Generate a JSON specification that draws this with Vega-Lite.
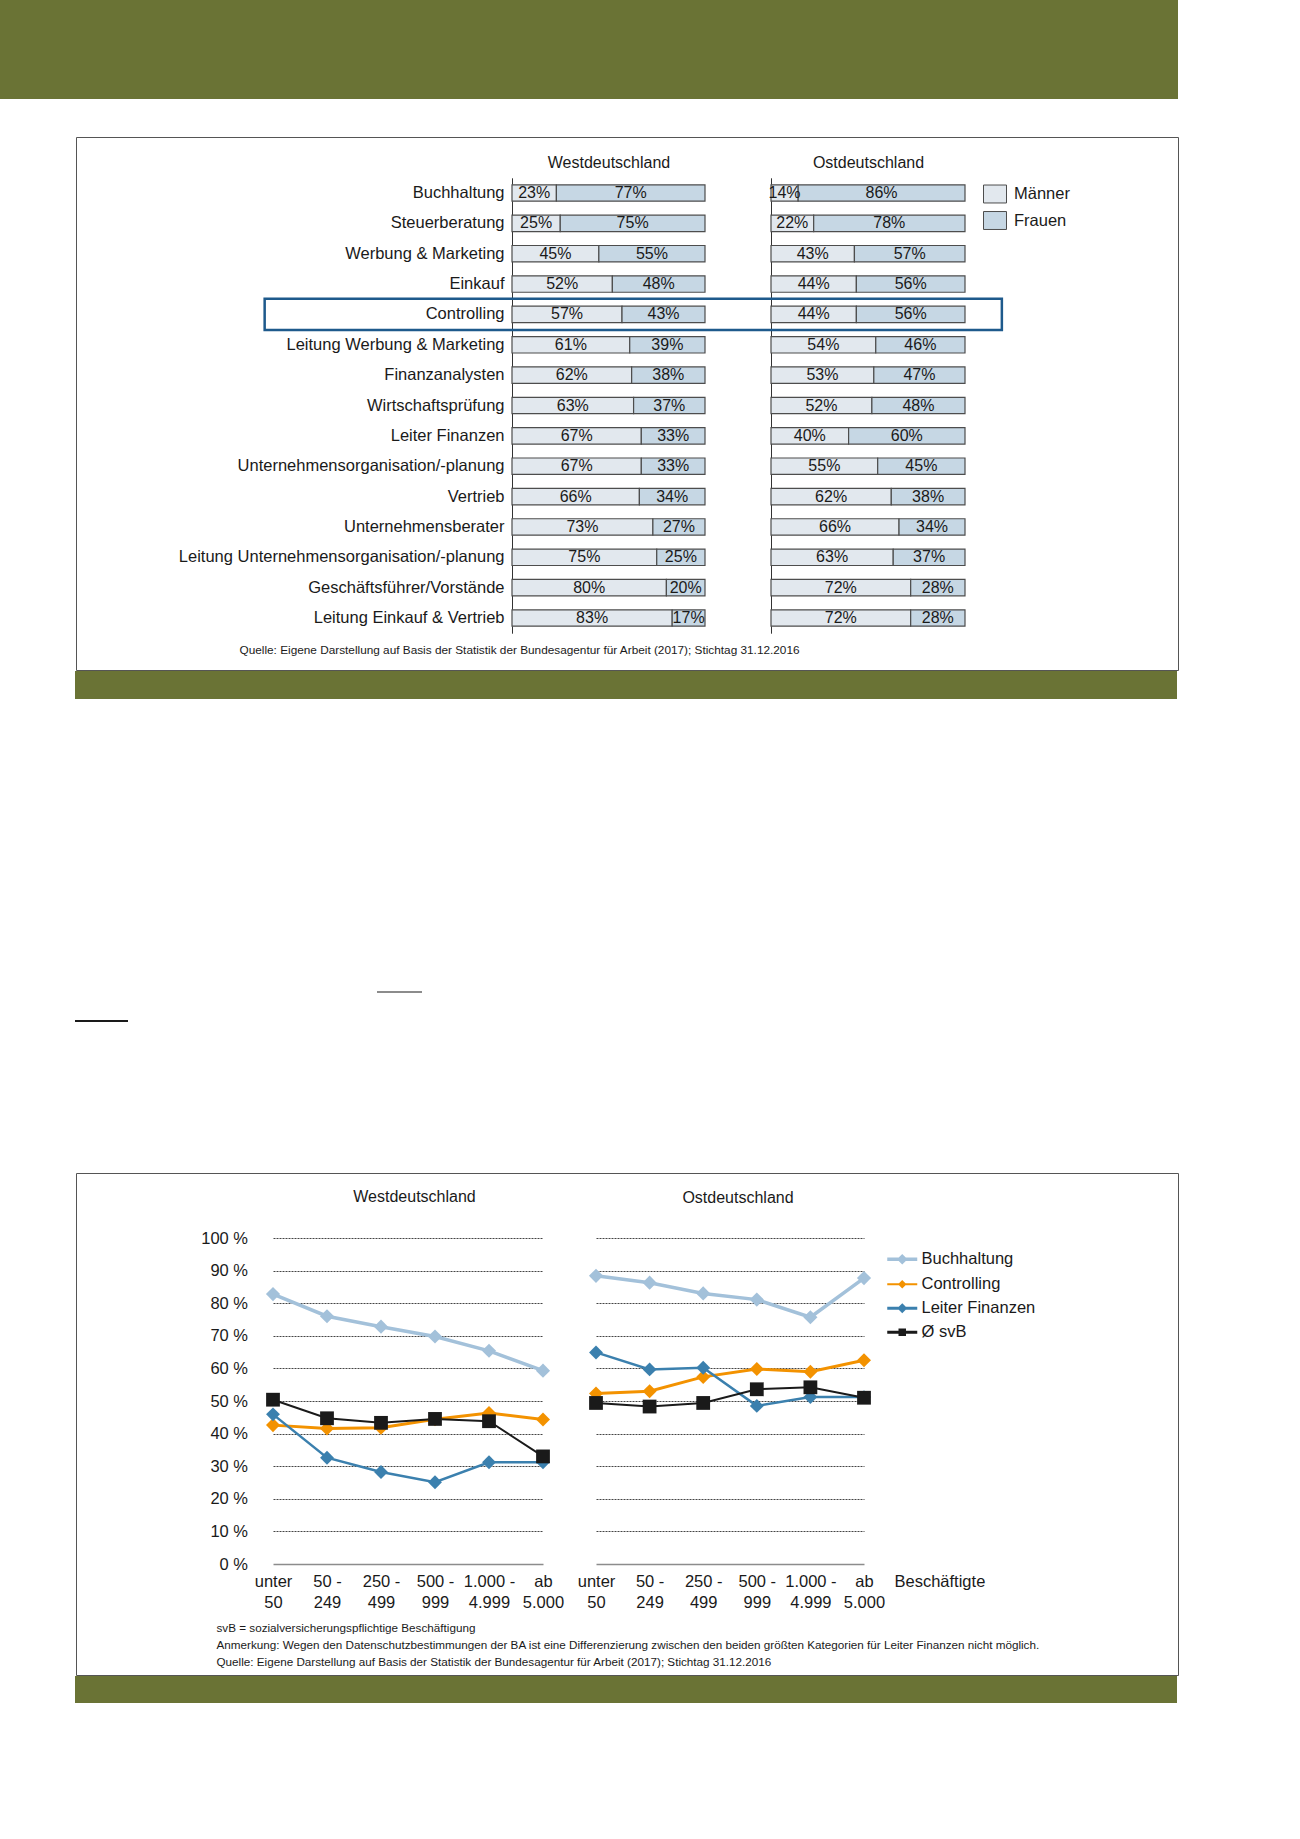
{
  "$schema": "https://vega.github.io/schema/vega-lite/v6.json",
  "padding": 0,
  "background": "white",
  "spacing": 0,
  "config": {"view": {"stroke": null}, "font": "Liberation Sans", "concat": {"spacing": 0}},
  "resolve": {"scale": {"color": "independent", "size": "independent", "shape": "independent", "strokeWidth": "independent"}, "legend": {"color": "independent"}},
  "datasets": {
    "bars": [
      {"region": "West", "job": "Buchhaltung", "gender": "Männer", "value": 23},
      {"region": "West", "job": "Buchhaltung", "gender": "Frauen", "value": 77},
      {"region": "West", "job": "Steuerberatung", "gender": "Männer", "value": 25},
      {"region": "West", "job": "Steuerberatung", "gender": "Frauen", "value": 75},
      {"region": "West", "job": "Werbung & Marketing", "gender": "Männer", "value": 45},
      {"region": "West", "job": "Werbung & Marketing", "gender": "Frauen", "value": 55},
      {"region": "West", "job": "Einkauf", "gender": "Männer", "value": 52},
      {"region": "West", "job": "Einkauf", "gender": "Frauen", "value": 48},
      {"region": "West", "job": "Controlling", "gender": "Männer", "value": 57},
      {"region": "West", "job": "Controlling", "gender": "Frauen", "value": 43},
      {"region": "West", "job": "Leitung Werbung & Marketing", "gender": "Männer", "value": 61},
      {"region": "West", "job": "Leitung Werbung & Marketing", "gender": "Frauen", "value": 39},
      {"region": "West", "job": "Finanzanalysten", "gender": "Männer", "value": 62},
      {"region": "West", "job": "Finanzanalysten", "gender": "Frauen", "value": 38},
      {"region": "West", "job": "Wirtschaftsprüfung", "gender": "Männer", "value": 63},
      {"region": "West", "job": "Wirtschaftsprüfung", "gender": "Frauen", "value": 37},
      {"region": "West", "job": "Leiter Finanzen", "gender": "Männer", "value": 67},
      {"region": "West", "job": "Leiter Finanzen", "gender": "Frauen", "value": 33},
      {"region": "West", "job": "Unternehmensorganisation/-planung", "gender": "Männer", "value": 67},
      {"region": "West", "job": "Unternehmensorganisation/-planung", "gender": "Frauen", "value": 33},
      {"region": "West", "job": "Vertrieb", "gender": "Männer", "value": 66},
      {"region": "West", "job": "Vertrieb", "gender": "Frauen", "value": 34},
      {"region": "West", "job": "Unternehmensberater", "gender": "Männer", "value": 73},
      {"region": "West", "job": "Unternehmensberater", "gender": "Frauen", "value": 27},
      {"region": "West", "job": "Leitung Unternehmensorganisation/-planung", "gender": "Männer", "value": 75},
      {"region": "West", "job": "Leitung Unternehmensorganisation/-planung", "gender": "Frauen", "value": 25},
      {"region": "West", "job": "Geschäftsführer/Vorstände", "gender": "Männer", "value": 80},
      {"region": "West", "job": "Geschäftsführer/Vorstände", "gender": "Frauen", "value": 20},
      {"region": "West", "job": "Leitung Einkauf & Vertrieb", "gender": "Männer", "value": 83},
      {"region": "West", "job": "Leitung Einkauf & Vertrieb", "gender": "Frauen", "value": 17},
      {"region": "East", "job": "Buchhaltung", "gender": "Männer", "value": 14},
      {"region": "East", "job": "Buchhaltung", "gender": "Frauen", "value": 86},
      {"region": "East", "job": "Steuerberatung", "gender": "Männer", "value": 22},
      {"region": "East", "job": "Steuerberatung", "gender": "Frauen", "value": 78},
      {"region": "East", "job": "Werbung & Marketing", "gender": "Männer", "value": 43},
      {"region": "East", "job": "Werbung & Marketing", "gender": "Frauen", "value": 57},
      {"region": "East", "job": "Einkauf", "gender": "Männer", "value": 44},
      {"region": "East", "job": "Einkauf", "gender": "Frauen", "value": 56},
      {"region": "East", "job": "Controlling", "gender": "Männer", "value": 44},
      {"region": "East", "job": "Controlling", "gender": "Frauen", "value": 56},
      {"region": "East", "job": "Leitung Werbung & Marketing", "gender": "Männer", "value": 54},
      {"region": "East", "job": "Leitung Werbung & Marketing", "gender": "Frauen", "value": 46},
      {"region": "East", "job": "Finanzanalysten", "gender": "Männer", "value": 53},
      {"region": "East", "job": "Finanzanalysten", "gender": "Frauen", "value": 47},
      {"region": "East", "job": "Wirtschaftsprüfung", "gender": "Männer", "value": 52},
      {"region": "East", "job": "Wirtschaftsprüfung", "gender": "Frauen", "value": 48},
      {"region": "East", "job": "Leiter Finanzen", "gender": "Männer", "value": 40},
      {"region": "East", "job": "Leiter Finanzen", "gender": "Frauen", "value": 60},
      {"region": "East", "job": "Unternehmensorganisation/-planung", "gender": "Männer", "value": 55},
      {"region": "East", "job": "Unternehmensorganisation/-planung", "gender": "Frauen", "value": 45},
      {"region": "East", "job": "Vertrieb", "gender": "Männer", "value": 62},
      {"region": "East", "job": "Vertrieb", "gender": "Frauen", "value": 38},
      {"region": "East", "job": "Unternehmensberater", "gender": "Männer", "value": 66},
      {"region": "East", "job": "Unternehmensberater", "gender": "Frauen", "value": 34},
      {"region": "East", "job": "Leitung Unternehmensorganisation/-planung", "gender": "Männer", "value": 63},
      {"region": "East", "job": "Leitung Unternehmensorganisation/-planung", "gender": "Frauen", "value": 37},
      {"region": "East", "job": "Geschäftsführer/Vorstände", "gender": "Männer", "value": 72},
      {"region": "East", "job": "Geschäftsführer/Vorstände", "gender": "Frauen", "value": 28},
      {"region": "East", "job": "Leitung Einkauf & Vertrieb", "gender": "Männer", "value": 72},
      {"region": "East", "job": "Leitung Einkauf & Vertrieb", "gender": "Frauen", "value": 28}
    ],
    "lines": [
      {"region": "West", "series": "Buchhaltung", "size": "unter 50", "value": 82.8},
      {"region": "West", "series": "Buchhaltung", "size": "50 - 249", "value": 76.0},
      {"region": "West", "series": "Buchhaltung", "size": "250 - 499", "value": 72.8},
      {"region": "West", "series": "Buchhaltung", "size": "500 - 999", "value": 69.8},
      {"region": "West", "series": "Buchhaltung", "size": "1.000 - 4.999", "value": 65.4},
      {"region": "West", "series": "Buchhaltung", "size": "ab 5.000", "value": 59.3},
      {"region": "West", "series": "Controlling", "size": "unter 50", "value": 42.6},
      {"region": "West", "series": "Controlling", "size": "50 - 249", "value": 41.6},
      {"region": "West", "series": "Controlling", "size": "250 - 499", "value": 41.8},
      {"region": "West", "series": "Controlling", "size": "500 - 999", "value": 44.4},
      {"region": "West", "series": "Controlling", "size": "1.000 - 4.999", "value": 46.3},
      {"region": "West", "series": "Controlling", "size": "ab 5.000", "value": 44.3},
      {"region": "West", "series": "Leiter Finanzen", "size": "unter 50", "value": 45.9},
      {"region": "West", "series": "Leiter Finanzen", "size": "50 - 249", "value": 32.6},
      {"region": "West", "series": "Leiter Finanzen", "size": "250 - 499", "value": 28.2},
      {"region": "West", "series": "Leiter Finanzen", "size": "500 - 999", "value": 25.1},
      {"region": "West", "series": "Leiter Finanzen", "size": "1.000 - 4.999", "value": 31.2},
      {"region": "West", "series": "Leiter Finanzen", "size": "ab 5.000", "value": 31.2},
      {"region": "West", "series": "Ø svB", "size": "unter 50", "value": 50.4},
      {"region": "West", "series": "Ø svB", "size": "50 - 249", "value": 44.7},
      {"region": "West", "series": "Ø svB", "size": "250 - 499", "value": 43.3},
      {"region": "West", "series": "Ø svB", "size": "500 - 999", "value": 44.5},
      {"region": "West", "series": "Ø svB", "size": "1.000 - 4.999", "value": 43.8},
      {"region": "West", "series": "Ø svB", "size": "ab 5.000", "value": 33.0},
      {"region": "East", "series": "Buchhaltung", "size": "unter 50", "value": 88.4},
      {"region": "East", "series": "Buchhaltung", "size": "50 - 249", "value": 86.3},
      {"region": "East", "series": "Buchhaltung", "size": "250 - 499", "value": 83.0},
      {"region": "East", "series": "Buchhaltung", "size": "500 - 999", "value": 81.1},
      {"region": "East", "series": "Buchhaltung", "size": "1.000 - 4.999", "value": 75.7},
      {"region": "East", "series": "Buchhaltung", "size": "ab 5.000", "value": 87.7},
      {"region": "East", "series": "Controlling", "size": "unter 50", "value": 52.3},
      {"region": "East", "series": "Controlling", "size": "50 - 249", "value": 53.0},
      {"region": "East", "series": "Controlling", "size": "250 - 499", "value": 57.4},
      {"region": "East", "series": "Controlling", "size": "500 - 999", "value": 59.8},
      {"region": "East", "series": "Controlling", "size": "1.000 - 4.999", "value": 59.0},
      {"region": "East", "series": "Controlling", "size": "ab 5.000", "value": 62.5},
      {"region": "East", "series": "Leiter Finanzen", "size": "unter 50", "value": 64.9},
      {"region": "East", "series": "Leiter Finanzen", "size": "50 - 249", "value": 59.7},
      {"region": "East", "series": "Leiter Finanzen", "size": "250 - 499", "value": 60.2},
      {"region": "East", "series": "Leiter Finanzen", "size": "500 - 999", "value": 48.5},
      {"region": "East", "series": "Leiter Finanzen", "size": "1.000 - 4.999", "value": 51.2},
      {"region": "East", "series": "Leiter Finanzen", "size": "ab 5.000", "value": 51.2},
      {"region": "East", "series": "Ø svB", "size": "unter 50", "value": 49.4},
      {"region": "East", "series": "Ø svB", "size": "50 - 249", "value": 48.3},
      {"region": "East", "series": "Ø svB", "size": "250 - 499", "value": 49.4},
      {"region": "East", "series": "Ø svB", "size": "500 - 999", "value": 53.6},
      {"region": "East", "series": "Ø svB", "size": "1.000 - 4.999", "value": 54.2},
      {"region": "East", "series": "Ø svB", "size": "ab 5.000", "value": 51.0}
    ]
  },
  "vconcat": [
    {"width": 1178, "height": 99, "view": {"fill": "#6a7335", "stroke": null}, "data": {"values": []}, "mark": {"type": "text", "text": ""}, "encoding": {}},
    {"width": 1, "height": 37, "data": {"values": []}, "mark": {"type": "text", "text": ""}, "encoding": {}},
    {
      "resolve": {"scale": {"color": "independent"}, "legend": {"color": "independent"}},
      "hconcat": [
        {"width": 75, "height": 533, "data": {"values": []}, "mark": {"type": "text", "text": ""}, "encoding": {}},
        {
          "width": 1102,
          "height": 533,
          "view": {"stroke": "#555555", "strokeWidth": 1, "fill": "white"},
          "data": {"name": "bars"},
          "resolve": {"scale": {"x": "independent", "y": "independent"}},
          "layer": [
            {
              "transform": [
                {"filter": "datum.region === 'West'"},
                {"stack": "value", "groupby": ["job"], "sort": [{"field": "gender", "order": "descending"}], "as": ["v0", "v1"]},
                {"calculate": "(datum.v0 + datum.v1) / 2", "as": "mid"},
                {"calculate": "datum.value + '%'", "as": "lbl"}
              ],
              "encoding": {
                "y": {
                  "field": "job", "type": "nominal",
                  "sort": ["Buchhaltung", "Steuerberatung", "Werbung & Marketing", "Einkauf", "Controlling", "Leitung Werbung & Marketing", "Finanzanalysten", "Wirtschaftsprüfung", "Leiter Finanzen", "Unternehmensorganisation/-planung", "Vertrieb", "Unternehmensberater", "Leitung Unternehmensorganisation/-planung", "Geschäftsführer/Vorstände", "Leitung Einkauf & Vertrieb"],
                  "scale": {"range": [40.8, 496.2], "paddingInner": 0.46, "paddingOuter": 0.23},
                  "axis": {
                    "orient": "left", "offset": -436, "ticks": false, "domain": true, "domainColor": "#333333", "domainWidth": 1,
                    "labelPadding": 8, "labelFontSize": 16.5, "labelColor": "#1a1a1a", "labelLimit": 600, "grid": false,
                    "title": "Quelle: Eigene Darstellung auf Basis der Statistik der Bundesagentur für Arbeit (2017); Stichtag 31.12.2016",
                    "titleAngle": 0, "titleX": -273, "titleY": 516, "titleAlign": "left", "titleBaseline": "alphabetic",
                    "titleFontSize": 11.8, "titleFontWeight": "normal", "titleColor": "#1a1a1a", "titleLimit": 2000
                  }
                }
              },
              "layer": [
                {
                  "mark": {"type": "bar", "stroke": "#4d4d4d", "strokeWidth": 1.2},
                  "encoding": {
                    "x": {
                      "field": "v0", "type": "quantitative",
                      "scale": {"domain": [0, 100], "range": [436, 629], "nice": false, "zero": false},
                      "axis": {"orient": "top", "labels": false, "ticks": false, "domain": false, "grid": false, "title": "Westdeutschland", "titleX": 532.5, "titleY": 25, "titleBaseline": "middle", "titleAlign": "center", "titleFontSize": 16, "titleFontWeight": "normal", "titleColor": "#1a1a1a"}
                    },
                    "x2": {"field": "v1"},
                    "color": {
                      "field": "gender", "type": "nominal",
                      "scale": {"domain": ["Männer", "Frauen"], "range": ["#e2e8ee", "#c6d7e4"]},
                      "legend": {"orient": "none", "legendX": 907, "legendY": 45, "title": null, "direction": "vertical", "symbolType": "M-1,-0.78H1V0.78H-1Z", "symbolSize": 529, "symbolStrokeColor": "#444444", "symbolStrokeWidth": 1, "symbolOpacity": 1, "labelFontSize": 16.5, "labelColor": "#1a1a1a", "labelOffset": 7, "rowPadding": 3.5, "padding": 0, "symbolOffset": 0}
                    }
                  }
                },
                {
                  "mark": {"type": "text", "fontSize": 16, "color": "#1a1a1a", "baseline": "middle"},
                  "encoding": {"x": {"field": "mid", "type": "quantitative"}, "text": {"field": "lbl", "type": "nominal"}}
                }
              ]
            },
            {
              "layer": [
                {
                  "transform": [
                    {"filter": "datum.region === 'East'"},
                    {"stack": "value", "groupby": ["job"], "sort": [{"field": "gender", "order": "descending"}], "as": ["v0", "v1"]},
                    {"calculate": "(datum.v0 + datum.v1) / 2", "as": "mid"},
                    {"calculate": "datum.value + '%'", "as": "lbl"}
                  ],
                  "encoding": {
                    "y": {
                      "field": "job", "type": "nominal",
                      "sort": ["Buchhaltung", "Steuerberatung", "Werbung & Marketing", "Einkauf", "Controlling", "Leitung Werbung & Marketing", "Finanzanalysten", "Wirtschaftsprüfung", "Leiter Finanzen", "Unternehmensorganisation/-planung", "Vertrieb", "Unternehmensberater", "Leitung Unternehmensorganisation/-planung", "Geschäftsführer/Vorstände", "Leitung Einkauf & Vertrieb"],
                      "scale": {"range": [40.8, 496.2], "paddingInner": 0.46, "paddingOuter": 0.23},
                      "axis": {"orient": "left", "offset": -695, "ticks": false, "labels": false, "domain": true, "domainColor": "#333333", "domainWidth": 1, "grid": false, "title": null}
                    }
                  },
                  "layer": [
                    {
                      "mark": {"type": "bar", "stroke": "#4d4d4d", "strokeWidth": 1.2},
                      "encoding": {
                        "x": {
                          "field": "v0", "type": "quantitative",
                          "scale": {"domain": [0, 100], "range": [695, 889], "nice": false, "zero": false},
                          "axis": {"orient": "top", "labels": false, "ticks": false, "domain": false, "grid": false, "title": "Ostdeutschland", "titleX": 792, "titleY": 25, "titleBaseline": "middle", "titleAlign": "center", "titleFontSize": 16, "titleFontWeight": "normal", "titleColor": "#1a1a1a"}
                        },
                        "x2": {"field": "v1"},
                        "color": {"field": "gender", "type": "nominal"}
                      }
                    },
                    {
                      "mark": {"type": "text", "fontSize": 16, "color": "#1a1a1a", "baseline": "middle"},
                      "encoding": {"x": {"field": "mid", "type": "quantitative"}, "text": {"field": "lbl", "type": "nominal"}}
                    }
                  ]
                },
                {
                  "data": {"values": [{}]},
                  "mark": {"type": "bar", "fill": "transparent", "stroke": "#1e5a8c", "strokeWidth": 2.5, "height": {"band": 1.9}},
                  "encoding": {
                    "y": {"datum": "Controlling", "type": "nominal"},
                    "x": {"datum": -261, "type": "quantitative"},
                    "x2": {"datum": 119}
                  }
                }
              ]
            }
          ]
        }
      ]
    },
    {
      "hconcat": [
        {"width": 75, "height": 28, "data": {"values": []}, "mark": {"type": "text", "text": ""}, "encoding": {}},
        {"width": 1102, "height": 28, "view": {"fill": "#6a7335", "stroke": null}, "data": {"values": []}, "mark": {"type": "text", "text": ""}, "encoding": {}}
      ]
    },
    {"width": 1, "height": 292, "data": {"values": []}, "mark": {"type": "text", "text": ""}, "encoding": {}},
    {
      "hconcat": [
        {"width": 377, "height": 2, "data": {"values": []}, "mark": {"type": "text", "text": ""}, "encoding": {}},
        {"width": 45, "height": 2, "view": {"fill": "#8c8c8c", "stroke": null}, "data": {"values": []}, "mark": {"type": "text", "text": ""}, "encoding": {}}
      ]
    },
    {"width": 1, "height": 27, "data": {"values": []}, "mark": {"type": "text", "text": ""}, "encoding": {}},
    {
      "hconcat": [
        {"width": 75, "height": 2, "data": {"values": []}, "mark": {"type": "text", "text": ""}, "encoding": {}},
        {"width": 53, "height": 2, "view": {"fill": "#1a1a1a", "stroke": null}, "data": {"values": []}, "mark": {"type": "text", "text": ""}, "encoding": {}}
      ]
    },
    {"width": 1, "height": 150, "data": {"values": []}, "mark": {"type": "text", "text": ""}, "encoding": {}},
    {
      "resolve": {"scale": {"color": "independent"}, "legend": {"color": "independent"}},
      "hconcat": [
        {"width": 75, "height": 502, "data": {"values": []}, "mark": {"type": "text", "text": ""}, "encoding": {}},
        {
          "width": 1102,
          "height": 502,
          "view": {"stroke": "#555555", "strokeWidth": 1, "fill": "white"},
          "data": {"name": "lines"},
          "resolve": {"scale": {"x": "independent", "y": "independent"}},
          "layer": [
            {
              "transform": [{"filter": "datum.region === 'West'"}],
              "encoding": {
                "x": {
                  "field": "size", "type": "ordinal",
                  "sort": ["unter 50", "50 - 249", "250 - 499", "500 - 999", "1.000 - 4.999", "ab 5.000"],
                  "scale": {"type": "point", "range": [197, 467], "padding": 0},
                  "axis": {
                    "orient": "bottom", "offset": -111, "labelAngle": 0,
                    "labelExpr": "[substring(datum.label, 0, lastindexof(datum.label, ' ')), substring(datum.label, lastindexof(datum.label, ' ') + 1)]",
                    "labelPadding": 9, "labelLineHeight": 21, "labelFontSize": 16.5, "labelColor": "#1a1a1a", "labelBaseline": "top",
                    "ticks": false, "domain": false, "grid": false,
                    "title": "Westdeutschland", "titleX": 338, "titleY": -368, "titleAlign": "center", "titleBaseline": "middle", "titleFontSize": 16, "titleFontWeight": "normal", "titleColor": "#1a1a1a"
                  }
                },
                "y": {
                  "field": "value", "type": "quantitative",
                  "scale": {"domain": [0, 100], "range": [391, 65], "nice": false, "zero": true},
                  "axis": {
                    "orient": "left", "offset": -197, "values": [0, 10, 20, 30, 40, 50, 60, 70, 80, 90, 100],
                    "labelExpr": "datum.value + ' %'", "labelPadding": 25.5, "labelFontSize": 16.5, "labelColor": "#1a1a1a",
                    "ticks": false, "domain": false, "grid": true,
                    "gridColor": {"condition": {"test": "datum.value === 0", "value": "#8c8c8c"}, "value": "#444444"},
                    "gridDash": {"condition": {"test": "datum.value === 0", "value": []}, "value": [2, 1]},
                    "gridWidth": {"condition": {"test": "datum.value === 0", "value": 1.5}, "value": 1},
                    "title": ["svB = sozialversicherungspflichtige Beschäftigung", "Anmerkung: Wegen den Datenschutzbestimmungen der BA ist eine Differenzierung zwischen den beiden größten Kategorien für Leiter Finanzen nicht möglich.", "Quelle: Eigene Darstellung auf Basis der Statistik der Bundesagentur für Arbeit (2017); Stichtag 31.12.2016"],
                    "titleAngle": 0, "titleX": -57, "titleY": 458, "titleAlign": "left", "titleBaseline": "alphabetic", "titleLineHeight": 17,
                    "titleFontSize": 11.7, "titleFontWeight": "normal", "titleColor": "#1a1a1a", "titleLimit": 2000
                  }
                },
                "color": {
                  "field": "series", "type": "nominal",
                  "scale": {"domain": ["Buchhaltung", "Controlling", "Leiter Finanzen", "Ø svB"], "range": ["#a3c1da", "#f39200", "#3b80ae", "#1a1a1a"]},
                  "legend": {
                    "orient": "none", "legendX": 818, "legendY": 78, "title": null, "padding": 0, "direction": "vertical",
                    "labelFontSize": 16.5, "labelColor": "#1a1a1a", "labelOffset": 11, "rowPadding": 6, "symbolSize": 900, "symbolOffset": 0,
                    "encode": {"symbols": {"update": {
                      "shape": {"signal": "datum.value === 'Ø svB' ? 'M-1,0H1M-0.15,-0.15H0.15V0.15H-0.15Z' : 'M-1,0H1M0,-0.19L0.19,0L0,0.19L-0.19,0Z'"},
                      "strokeWidth": {"signal": "datum.value === 'Buchhaltung' ? 3.5 : datum.value === 'Controlling' ? 2 : 3"},
                      "stroke": {"signal": "datum.value === 'Buchhaltung' ? '#a3c1da' : datum.value === 'Controlling' ? '#f39200' : datum.value === 'Leiter Finanzen' ? '#3b80ae' : '#1a1a1a'"},
                      "fill": {"signal": "datum.value === 'Buchhaltung' ? '#a3c1da' : datum.value === 'Controlling' ? '#f39200' : datum.value === 'Leiter Finanzen' ? '#3b80ae' : '#1a1a1a'"},
                      "opacity": {"value": 1}
                    }}}
                  }
                }
              },
              "layer": [
                {
                  "mark": {"type": "line"},
                  "encoding": {"strokeWidth": {"field": "series", "type": "nominal", "scale": {"domain": ["Buchhaltung", "Controlling", "Leiter Finanzen", "Ø svB"], "range": [3.5, 2, 3, 3]}, "legend": null}}
                },
                {
                  "mark": {"type": "point", "filled": true, "opacity": 1, "strokeWidth": 0},
                  "encoding": {
                    "shape": {"field": "series", "type": "nominal", "scale": {"domain": ["Buchhaltung", "Controlling", "Leiter Finanzen", "Ø svB"], "range": ["diamond", "diamond", "diamond", "square"]}, "legend": null},
                    "size": {"field": "series", "type": "nominal", "scale": {"domain": ["Buchhaltung", "Controlling", "Leiter Finanzen", "Ø svB"], "range": [200, 190, 190, 56]}, "legend": null}
                  }
                }
              ]
            },
            {
              "transform": [{"filter": "datum.region === 'East'"}],
              "encoding": {
                "x": {
                  "field": "size", "type": "ordinal",
                  "sort": ["unter 50", "50 - 249", "250 - 499", "500 - 999", "1.000 - 4.999", "ab 5.000"],
                  "scale": {"type": "point", "range": [520, 788], "padding": 0},
                  "axis": {
                    "orient": "bottom", "offset": -111, "labelAngle": 0,
                    "labelExpr": "[substring(datum.label, 0, lastindexof(datum.label, ' ')), substring(datum.label, lastindexof(datum.label, ' ') + 1)]",
                    "labelPadding": 9, "labelLineHeight": 21, "labelFontSize": 16.5, "labelColor": "#1a1a1a", "labelBaseline": "top",
                    "ticks": false, "domain": false, "grid": false,
                    "title": "Beschäftigte", "titleX": 818, "titleY": 17.5, "titleAlign": "left", "titleBaseline": "middle", "titleFontSize": 16.5, "titleFontWeight": "normal", "titleColor": "#1a1a1a"
                  }
                },
                "y": {
                  "field": "value", "type": "quantitative",
                  "scale": {"domain": [0, 100], "range": [391, 65], "nice": false, "zero": true},
                  "axis": {
                    "orient": "left", "offset": -520, "values": [0, 10, 20, 30, 40, 50, 60, 70, 80, 90, 100],
                    "labels": false, "ticks": false, "domain": false, "grid": true,
                    "gridColor": {"condition": {"test": "datum.value === 0", "value": "#8c8c8c"}, "value": "#444444"},
                    "gridDash": {"condition": {"test": "datum.value === 0", "value": []}, "value": [2, 1]},
                    "gridWidth": {"condition": {"test": "datum.value === 0", "value": 1.5}, "value": 1},
                    "title": "Ostdeutschland", "titleAngle": 0, "titleX": 141.5, "titleY": 24.5, "titleAlign": "center", "titleBaseline": "middle",
                    "titleFontSize": 16, "titleFontWeight": "normal", "titleColor": "#1a1a1a"
                  }
                },
                "color": {"field": "series", "type": "nominal"}
              },
              "layer": [
                {
                  "mark": {"type": "line"},
                  "encoding": {"strokeWidth": {"field": "series", "type": "nominal", "scale": {"domain": ["Buchhaltung", "Controlling", "Leiter Finanzen", "Ø svB"], "range": [3.5, 2, 3, 3]}, "legend": null}}
                },
                {
                  "mark": {"type": "point", "filled": true, "opacity": 1, "strokeWidth": 0},
                  "encoding": {
                    "shape": {"field": "series", "type": "nominal", "scale": {"domain": ["Buchhaltung", "Controlling", "Leiter Finanzen", "Ø svB"], "range": ["diamond", "diamond", "diamond", "square"]}, "legend": null},
                    "size": {"field": "series", "type": "nominal", "scale": {"domain": ["Buchhaltung", "Controlling", "Leiter Finanzen", "Ø svB"], "range": [200, 190, 190, 56]}, "legend": null}
                  }
                }
              ]
            }
          ]
        }
      ]
    },
    {
      "hconcat": [
        {"width": 75, "height": 27, "data": {"values": []}, "mark": {"type": "text", "text": ""}, "encoding": {}},
        {"width": 1102, "height": 27, "view": {"fill": "#6a7335", "stroke": null}, "data": {"values": []}, "mark": {"type": "text", "text": ""}, "encoding": {}}
      ]
    }
  ]
}
